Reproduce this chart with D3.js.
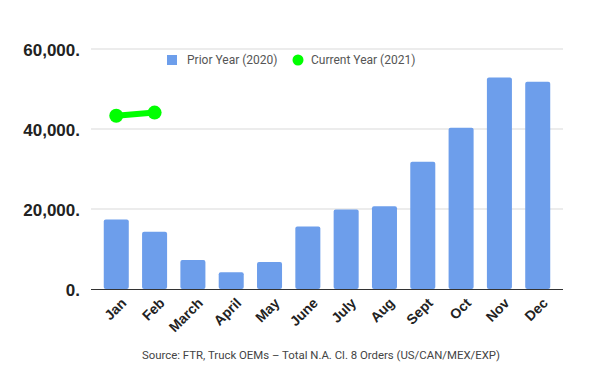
<!DOCTYPE html>
<html><head><meta charset="utf-8">
<script src="https://cdn.jsdelivr.net/npm/d3@7"></script>
<style>body{margin:0;background:#fff}</style>
</head><body><svg id="c" width="610" height="390"></svg>
<script>
const months = ["Jan","Feb","March","April","May","June","July","Aug","Sept","Oct","Nov","Dec"];
const prior2020 = [17400,14300,7250,4200,6750,15600,19900,20700,31800,40300,52900,51800];
const currentMonths = ["Jan","Feb"];
const current2021 = [43300,44100];
const yTicks = [0,20000,40000,60000];
const yTickLabels = ["0.","20,000.","40,000.","60,000."];
const seriesNames = ["Prior Year (2020)","Current Year (2021)"];
const sourceText = "Source: FTR, Truck OEMs \u2013 Total N.A. Cl. 8 Orders (US/CAN/MEX/EXP)";

const svg = d3.select("#c");
const x = d3.scaleBand().domain(months).range([91,563]).paddingInner(0.347).paddingOuter(0.333);
const y = d3.scaleLinear().domain([0,60000]).range([289,49]);

// grid
svg.append("g").selectAll("line").data(yTicks.filter(d=>d>0)).join("line")
  .attr("x1",91).attr("x2",563).attr("y1",d=>y(d)).attr("y2",d=>y(d))
  .attr("stroke","#d9d9d9").attr("stroke-width",1);

// y labels
const yAxis = d3.axisLeft(y).tickValues(yTicks).tickSize(0).tickPadding(11)
  .tickFormat((d,i)=>yTickLabels[i]);
const ga = svg.append("g").attr("transform","translate(91,0)").call(yAxis);
ga.select(".domain").remove();
ga.selectAll("text").attr("font-family","Liberation Sans, Arial, sans-serif")
  .attr("font-weight","bold").attr("font-size",17).attr("fill","#222").attr("dy","0.38em");

// bars
svg.append("g").selectAll("rect").data(months).join("rect")
  .attr("x",d=>x(d)).attr("width",x.bandwidth())
  .attr("y",(d,i)=>y(prior2020[i])).attr("height",(d,i)=>y(0)-y(prior2020[i]))
  .attr("rx",2).attr("fill","#6d9eeb");

// baseline
svg.append("line").attr("x1",91).attr("x2",563).attr("y1",y(0)+0.5).attr("y2",y(0)+0.5)
  .attr("stroke","#333").attr("stroke-width",1.2);

// x labels
const xAxis = d3.axisBottom(x).tickSize(0).tickPadding(0);
const gx = svg.append("g").attr("transform",`translate(0,${y(0)})`).call(xAxis);
gx.select(".domain").remove();
gx.selectAll("text").attr("font-family","Liberation Sans, Arial, sans-serif")
  .attr("font-weight","bold").attr("font-size",14).attr("fill","#222")
  .attr("text-anchor","end").attr("y",0).attr("dy","0.7em")
  .attr("transform","translate(4,8) rotate(-45)");

// line
const lineData = currentMonths.map((m,i)=>({m,v:current2021[i]}));
const line = d3.line().x(d=>x(d.m)+x.bandwidth()/2).y(d=>y(d.v));
svg.append("path").datum(lineData).attr("d",line).attr("fill","none")
  .attr("stroke","#00ff00").attr("stroke-width",6);
svg.append("g").selectAll("circle").data(lineData).join("circle")
  .attr("cx",d=>x(d.m)+x.bandwidth()/2).attr("cy",d=>y(d.v)).attr("r",7).attr("fill","#00ff00");

// legend
const lg = svg.append("g");
lg.append("rect").attr("x",167).attr("y",55).attr("width",10).attr("height",10).attr("fill","#6d9eeb");
lg.append("text").attr("x",187).attr("y",60).attr("dy","0.35em").text(seriesNames[0])
  .attr("font-family","Roboto, sans-serif").attr("font-size",12).attr("fill","#555");
lg.append("circle").attr("cx",298).attr("cy",60).attr("r",5.5).attr("fill","#00ff00");
lg.append("text").attr("x",311).attr("y",60).attr("dy","0.35em").text(seriesNames[1])
  .attr("font-family","Roboto, sans-serif").attr("font-size",12).attr("fill","#555");

// source
svg.append("text").attr("x",321).attr("y",355).attr("dy","0.35em").attr("text-anchor","middle").text(sourceText)
  .attr("font-family","Roboto, sans-serif").attr("font-size",11.4).attr("fill","#444");
</script></body></html>
